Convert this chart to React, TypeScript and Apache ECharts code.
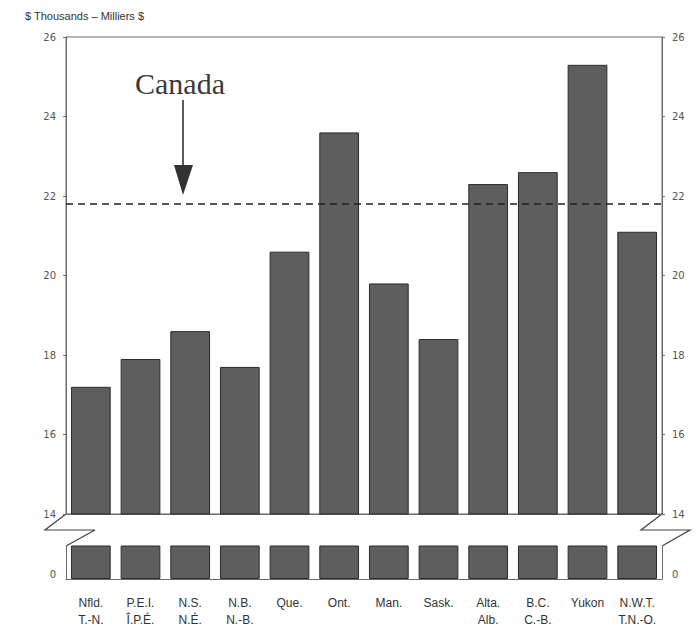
import React, { useEffect, useRef } from "react";
import * as echarts from "echarts";

const categories = [
  "Nfld.\nT.-N.",
  "P.E.I.\nÎ.P.É.",
  "N.S.\nN.É.",
  "N.B.\nN.-B.",
  "Que.",
  "Ont.",
  "Man.",
  "Sask.",
  "Alta.\nAlb.",
  "B.C.\nC.-B.",
  "Yukon",
  "N.W.T.\nT.N.-O.",
];
const incomeValues = [17.2, 17.9, 18.6, 17.7, 20.6, 23.6, 19.8, 18.4, 22.3, 22.6, 25.3, 21.1];
const canadaAverage = 21.8;
const upperAxisMin = 14;
const upperAxisMax = 26;
const upperAxisStep = 2;
const lowerAxisMin = 0;
const lowerAxisMax = 1;
const titleText = "$ Thousands – Milliers $";
const annotationText = "Canada";

const BAR_COLOR = "#5e5e5e";
const BAR_BORDER = "#2b2b2b";
const AXIS_COLOR = "#6a6a6a";
const TICK_FONT = "DejaVu Sans";

export default function App() {
  const ref = useRef<HTMLDivElement>(null);

  useEffect(() => {
    if (!ref.current) return;
    const chart = echarts.init(ref.current, null, { renderer: "svg" });

    const tickLabel = {
      color: "#555",
      fontFamily: TICK_FONT,
      fontSize: 10,
      margin: 10,
    };
    const axisLine = { show: true, lineStyle: { color: AXIS_COLOR, width: 1 } };
    const axisTick = { show: true, length: 3, lineStyle: { color: AXIS_COLOR } };

    const barStyle = {
      color: BAR_COLOR,
      borderColor: BAR_BORDER,
      borderWidth: 1,
    };

    const option: any = {
      animation: false,
      backgroundColor: "#ffffff",
      grid: [
        {
          left: 66,
          right: 38,
          top: 37,
          height: 477,
          show: true,
          borderColor: AXIS_COLOR,
          borderWidth: 1,
          backgroundColor: "transparent",
        },
        { left: 66, right: 38, top: 546, height: 38 },
      ],
      xAxis: [
        {
          type: "category",
          gridIndex: 0,
          data: categories,
          axisLine: axisLine,
          axisTick: { show: false },
          axisLabel: { show: false },
        },
        {
          type: "category",
          gridIndex: 1,
          data: categories,
          axisLine: axisLine,
          axisTick: { show: false },
          axisLabel: {
            color: "#333",
            fontFamily: "Liberation Sans Narrow, Liberation Sans, Arial, sans-serif",
            fontSize: 12,
            lineHeight: 17,
            margin: 15,
            interval: 0,
          },
        },
      ],
      yAxis: [
        {
          type: "value",
          gridIndex: 0,
          position: "left",
          min: upperAxisMin,
          max: upperAxisMax,
          interval: upperAxisStep,
          axisLine: axisLine,
          axisTick: axisTick,
          axisLabel: tickLabel,
          splitLine: { show: false },
        },
        {
          type: "value",
          gridIndex: 0,
          position: "right",
          min: upperAxisMin,
          max: upperAxisMax,
          interval: upperAxisStep,
          axisLine: axisLine,
          axisTick: axisTick,
          axisLabel: tickLabel,
          splitLine: { show: false },
        },
        {
          type: "value",
          gridIndex: 1,
          position: "left",
          min: lowerAxisMin,
          max: lowerAxisMax,
          interval: 1,
          axisLine: axisLine,
          axisTick: { show: false },
          axisLabel: { ...tickLabel, showMaxLabel: false, verticalAlign: "bottom" },
          splitLine: { show: false },
        },
        {
          type: "value",
          gridIndex: 1,
          position: "right",
          min: lowerAxisMin,
          max: lowerAxisMax,
          interval: 1,
          axisLine: axisLine,
          axisTick: { show: false },
          axisLabel: { ...tickLabel, showMaxLabel: false, verticalAlign: "bottom" },
          splitLine: { show: false },
        },
      ],
      series: [
        {
          type: "bar",
          xAxisIndex: 0,
          yAxisIndex: 0,
          data: incomeValues,
          barCategoryGap: "20%",
          clip: true,
          itemStyle: barStyle,
          markLine: {
            silent: true,
            symbol: ["none", "none"],
            label: { show: false },
            lineStyle: { type: [7, 5], color: "#222", width: 1.6 },
            data: [{ yAxis: canadaAverage }],
          },
        },
        {
          type: "bar",
          xAxisIndex: 1,
          yAxisIndex: 2,
          data: incomeValues,
          barCategoryGap: "20%",
          clip: true,
          itemStyle: barStyle,
        },
      ],
      graphic: [
        {
          type: "text",
          left: 25,
          top: 10,
          style: {
            text: titleText,
            fill: "#333",
            font: "11px 'Liberation Sans', Arial, sans-serif",
          },
        },
        {
          type: "text",
          x: 180,
          y: 83,
          style: {
            text: annotationText,
            fill: "#3a3a3a",
            font: "30px 'Liberation Serif', 'Times New Roman', serif",
            align: "center",
            verticalAlign: "middle",
          },
        },
        {
          type: "line",
          shape: { x1: 183, y1: 100, x2: 183, y2: 168 },
          style: { stroke: "#333", lineWidth: 1.6 },
        },
        {
          type: "polygon",
          shape: { points: [[174, 165], [193, 165], [183, 195]] },
          style: { fill: "#333" },
        },
        {
          type: "polyline",
          shape: { points: [[66, 514], [45, 530], [95, 530], [66, 546]] },
          style: { stroke: "#444", lineWidth: 1.2, fill: "none" },
        },
        {
          type: "polyline",
          shape: { points: [[662, 514], [641, 530], [690, 530], [662, 546]] },
          style: { stroke: "#444", lineWidth: 1.2, fill: "none" },
        },
      ],
    };

    chart.setOption(option);
    return () => chart.dispose();
  }, []);

  return (
    <div
      ref={ref}
      style={{ position: "fixed", left: 0, top: 0, width: 700, height: 628 }}
    />
  );
}
